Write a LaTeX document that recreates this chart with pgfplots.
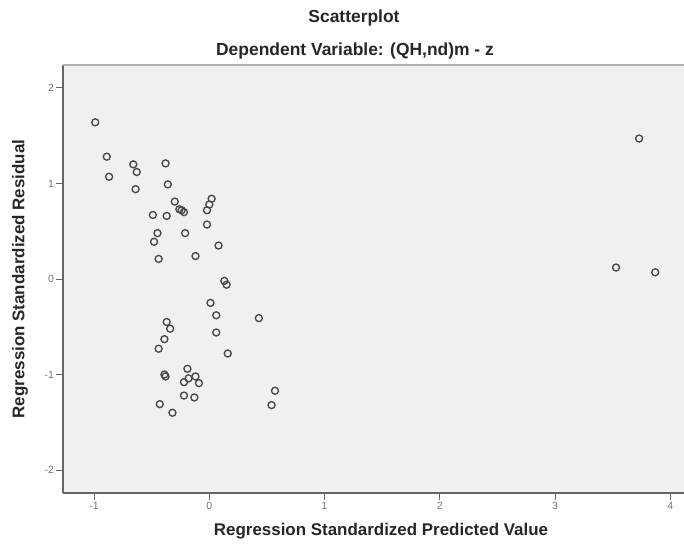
\documentclass[border=0pt]{standalone}
\usepackage{pgfplots}
\pgfplotsset{compat=1.18}
\usepackage{fontspec}
\setmainfont{Liberation Sans}
\definecolor{bgc}{HTML}{F0F0F0}
\definecolor{mk}{HTML}{484848}
\definecolor{ax}{HTML}{666666}
\begin{document}
\begin{tikzpicture}[x=1bp,y=1bp]
\useasboundingbox (0,0) rectangle (684,547);
\node[font=\bfseries\fontsize{17.5}{20}\selectfont, text=black!85] at (354,529) {Scatterplot};
\node[font=\bfseries\fontsize{17.5}{20}\selectfont, text=black!85] at (355,496) {Dependent Variable: (QH,nd)m - z};
\node[font=\bfseries\fontsize{17}{20}\selectfont, text=black!85] at (381,16) {Regression Standardized Predicted Value};
\node[font=\bfseries\fontsize{17}{20}\selectfont, text=black!85, rotate=90] at (20,268) {Regression Standardized Residual};
\begin{axis}[
  at={(63bp,54bp)}, anchor=south west,
  scale only axis, width=621bp, height=428bp,
  xmin=-1.27, xmax=4.12, ymin=-2.24, ymax=2.24,
  axis x line*=bottom, axis y line*=left,
  axis line style={ax, line width=1.5pt, -},
  axis background/.style={fill=bgc},
  xtick={-1,0,1,2,3,4}, ytick={-2,-1,0,1,2},
  tick align=outside, major tick length=7bp,
  tick style={ax, line width=0.9pt},
  ticklabel style={font=\fontsize{10.5}{12}\selectfont, text=black!55},
  /pgf/number format/assume math mode=true,
  xticklabel style={yshift=1bp},
  yticklabel style={xshift=1.5bp},
  clip=false,
]
\draw[gray!60, line width=1.5pt] (rel axis cs:0,1) -- (rel axis cs:1,1);
\addplot[only marks, mark=o, mark size=3.5bp, mark options={mk, line width=1.35pt}] coordinates {
(-0.99,1.64) (-0.89,1.28) (-0.87,1.07) (-0.66,1.20) (-0.63,1.12) (-0.64,0.94)
(-0.38,1.21) (-0.36,0.99) (-0.30,0.81) (-0.26,0.73) (-0.22,0.70) (-0.24,0.72)
(-0.49,0.67) (-0.37,0.66) (0.02,0.84) (0.00,0.78) (-0.02,0.72) (-0.02,0.57)
(-0.21,0.48) (-0.45,0.48) (-0.48,0.39) (0.08,0.35) (-0.44,0.21) (-0.12,0.24)
(0.13,-0.02) (0.15,-0.06) (0.01,-0.25) (0.06,-0.38) (0.06,-0.56) (0.16,-0.78)
(0.43,-0.41) (-0.37,-0.45) (-0.34,-0.52) (-0.39,-0.63) (-0.44,-0.73)
(-0.39,-1.00) (-0.38,-1.02) (-0.19,-0.94) (-0.18,-1.04) (-0.12,-1.02)
(-0.22,-1.08) (-0.09,-1.09) (-0.22,-1.22) (-0.13,-1.24) (-0.43,-1.31)
(-0.32,-1.40) (0.57,-1.17) (0.54,-1.32)
(3.73,1.47) (3.53,0.12) (3.87,0.07)
};
\end{axis}
\end{tikzpicture}
\end{document}
